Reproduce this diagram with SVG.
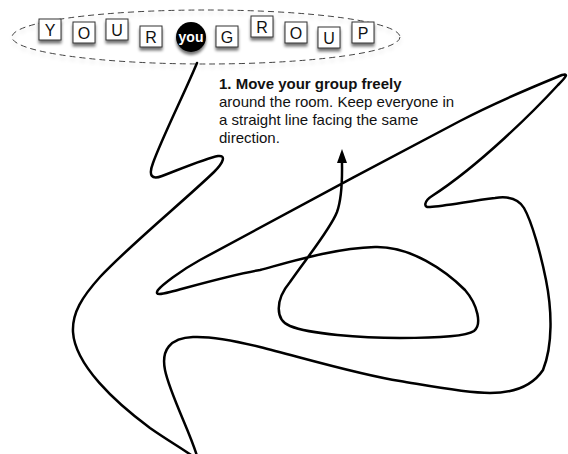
<svg xmlns="http://www.w3.org/2000/svg" width="568" height="454" viewBox="0 0 568 454">
<style>
.tile rect{fill:#fff;stroke:#333;stroke-width:1}
.tile text{font-family:"Liberation Sans",Arial,Helvetica,sans-serif;font-size:16px;fill:#111;text-anchor:middle}
.note{font-family:"Liberation Sans",Arial,Helvetica,sans-serif;font-size:15px;fill:#111}
.route{fill:none;stroke:#000;stroke-width:2.5;stroke-linecap:round;stroke-linejoin:round}
</style>
<defs>
<filter id="sh" x="-50%" y="-50%" width="200%" height="200%">
<feGaussianBlur in="SourceAlpha" stdDeviation="1.6"/>
<feOffset dx="0" dy="2.5" result="b"/>
<feComponentTransfer><feFuncA type="linear" slope="0.55"/></feComponentTransfer>
<feMerge><feMergeNode/><feMergeNode in="SourceGraphic"/></feMerge>
</filter>
<filter id="esh" x="-10%" y="-30%" width="120%" height="170%">
<feGaussianBlur in="SourceAlpha" stdDeviation="2"/>
<feOffset dx="0" dy="3"/>
<feComponentTransfer><feFuncA type="linear" slope="0.2"/></feComponentTransfer>
<feMerge><feMergeNode/><feMergeNode in="SourceGraphic"/></feMerge>
</filter>
<marker id="arr" viewBox="0 0 14 10" refX="1" refY="5" markerWidth="14" markerHeight="10" markerUnits="userSpaceOnUse" orient="auto">
<path d="M0,0 L14,5 L0,10 z" fill="#000"/>
</marker>
</defs>
<g id="group-ellipse">
<ellipse cx="206" cy="37" rx="194" ry="27" fill="none" stroke="#444" stroke-width="1" stroke-dasharray="6,4" filter="url(#esh)"/>
</g>
<g id="connectors">
<path class="route" marker-end="url(#arr)" d="M197,63 C185,92 162,138 153,163 C148,176 152,180 162,176 C183,168 207,158 218,156 C226,155 224,162 214,172 C185,200 130,245 100,277 C82,297 72,313 73,332 C75,365 115,402 150,428 C170,442 188,452 198,460 C194,440 170,395 165,370 C161,350 170,338 193,337 C215,336 240,342 260,347 C300,357 360,375 400,381 C430,386 465,393 490,393 C515,393 533,385 543,370 C553,345 552,310 546,280 C541,255 532,222 524,208 C518,198 508,196 495,198 C470,201 445,206 430,207 C423,208 424,201 432,196 C480,165 535,110 558,85 C566,77 569,73 562,75 C545,82 500,100 460,121 C380,163 240,238 200,260 C180,271 162,285 158,290 C154,296 162,294 170,292 C200,284 235,274 260,270 C290,262 335,248 375,247 C410,246 445,270 465,290 C478,305 482,325 474,331 C465,337 430,338 400,338 C360,338 310,334 290,326 C275,320 275,300 290,282 C305,260 330,230 337,212 C343,195 342,175 342,162"/>
</g>
<g id="tile-Y" class="tile"><rect x="39" y="19" width="22" height="21" filter="url(#sh)"/><text x="50" y="35.5">Y</text></g>
<g id="tile-O1" class="tile"><rect x="73" y="22" width="22" height="21" filter="url(#sh)"/><text x="84" y="38.5">O</text></g>
<g id="tile-U1" class="tile"><rect x="106" y="19" width="22" height="21" filter="url(#sh)"/><text x="117" y="35.5">U</text></g>
<g id="tile-R1" class="tile"><rect x="140" y="26" width="22" height="21" filter="url(#sh)"/><text x="151" y="42.5">R</text></g>
<g id="you"><circle cx="191" cy="37" r="15" fill="#000" filter="url(#sh)"/><text x="191" y="42" font-family="Liberation Sans,Arial,Helvetica,sans-serif" font-size="14" font-weight="bold" fill="#fff" text-anchor="middle">you</text></g>
<g id="tile-G" class="tile"><rect x="216" y="26" width="22" height="21" filter="url(#sh)"/><text x="227" y="42.5">G</text></g>
<g id="tile-R2" class="tile"><rect x="251" y="16" width="22" height="21" filter="url(#sh)"/><text x="262" y="32.5">R</text></g>
<g id="tile-O2" class="tile"><rect x="285" y="22" width="22" height="21" filter="url(#sh)"/><text x="296" y="38.5">O</text></g>
<g id="tile-U2" class="tile"><rect x="318" y="27" width="22" height="21" filter="url(#sh)"/><text x="329" y="43.5">U</text></g>
<g id="tile-P" class="tile"><rect x="352" y="22" width="22" height="21" filter="url(#sh)"/><text x="363" y="38.5">P</text></g>
<g id="instruction">
<text class="note" x="219" y="89" font-weight="bold">1. Move your group freely</text>
<text class="note" x="219" y="107">around the room. Keep everyone in</text>
<text class="note" x="219" y="125">a straight line facing the same</text>
<text class="note" x="219" y="143">direction.</text>
</g>
</svg>
